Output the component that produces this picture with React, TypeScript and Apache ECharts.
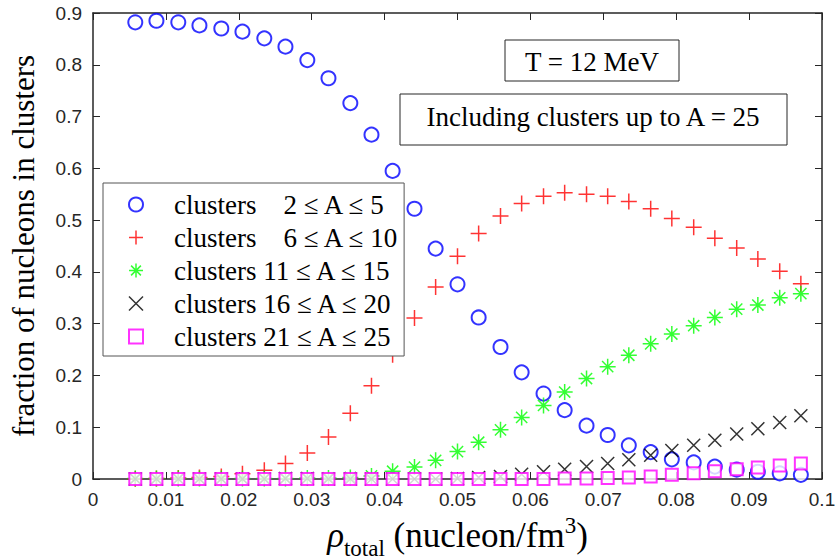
import React, { useEffect, useRef } from "react";
import * as echarts from "echarts";

// x: total density (nucleon/fm^3)
const densities = [
  0.0058, 0.0087, 0.0117, 0.0146, 0.0176, 0.0205, 0.0235, 0.0264, 0.0294, 0.0323,
  0.0353, 0.0382, 0.0411, 0.0441, 0.047, 0.05, 0.0529, 0.0559, 0.0588, 0.0618,
  0.0647, 0.0677, 0.0706, 0.0735, 0.0765, 0.0794, 0.0824, 0.0853, 0.0883, 0.0912,
  0.0942, 0.0971,
];

const clusters2to5 = [
  0.882, 0.885, 0.882, 0.876, 0.87, 0.864, 0.851, 0.835, 0.809, 0.774,
  0.726, 0.665, 0.595, 0.522, 0.445, 0.376, 0.312, 0.255, 0.206, 0.165,
  0.133, 0.103, 0.085, 0.065, 0.052, 0.038, 0.032, 0.024, 0.018, 0.014,
  0.011, 0.008,
];

const clusters6to10 = [
  0.0005, 0.001, 0.002, 0.003, 0.005, 0.01, 0.017, 0.03, 0.05, 0.081,
  0.127, 0.18, 0.24, 0.311, 0.371, 0.43, 0.474, 0.508, 0.532, 0.546,
  0.553, 0.55, 0.546, 0.536, 0.522, 0.503, 0.486, 0.465, 0.446, 0.425,
  0.401, 0.377,
];

const clusters11to15 = [
  0.001, 0.001, 0.001, 0.001, 0.001, 0.001, 0.001, 0.001, 0.002, 0.002,
  0.003, 0.006, 0.015, 0.023, 0.036, 0.053, 0.071, 0.095, 0.119, 0.142,
  0.168, 0.194, 0.217, 0.239, 0.261, 0.28, 0.296, 0.312, 0.328, 0.336,
  0.35, 0.358,
];

const clusters16to20 = [
  0, 0, 0, 0, 0, 0, 0, 0.001, 0.001, 0,
  0, 0, 0, 0, 0, 0.001, 0.003, 0.005, 0.009, 0.014,
  0.019, 0.024, 0.03, 0.037, 0.046, 0.055, 0.065, 0.075, 0.087, 0.097,
  0.109, 0.122,
];

const clusters21to25 = [
  0, 0, 0, 0, 0, 0, 0, 0, 0, 0,
  0, 0, 0, 0, 0, 0, 0, 0, 0, 0,
  0.001, 0.001, 0.002, 0.003, 0.005, 0.008, 0.011, 0.015, 0.019, 0.022,
  0.026, 0.03,
];

const seriesNames = [
  "clusters \u2002 2 \u2264 A \u2264 5",
  "clusters \u2002 6 \u2264 A \u2264 10",
  "clusters 11 \u2264 A \u2264 15",
  "clusters 16 \u2264 A \u2264 20",
  "clusters 21 \u2264 A \u2264 25",
];

const xTickLabels = ["0", "0.01", "0.02", "0.03", "0.04", "0.05", "0.06", "0.07", "0.08", "0.09", "0.1"];
const yTickLabels = ["0", "0.1", "0.2", "0.3", "0.4", "0.5", "0.6", "0.7", "0.8", "0.9"];

const tempLabel = "T = 12 MeV";
const includeLabel = "Including clusters up to A = 25";

export default function App() {
  const ref = useRef<HTMLDivElement>(null);

  useEffect(() => {
    const chart = echarts.init(ref.current!, null, { renderer: "svg" });
    const pair = (ys: number[]) => densities.map((x, i) => [x, ys[i]]);

    const plus = "path://M0,-1L0,1M-1,0L1,0";
    const cross = "path://M-1,-1L1,1M-1,1L1,-1";
    const star = "path://M0,-1L0,1M-1,0L1,0M-0.7,-0.7L0.7,0.7M-0.7,0.7L0.7,-0.7";

    const serif = "'Liberation Serif', 'Times New Roman', serif";
    const sans = "'Liberation Sans', Arial, sans-serif";
    const axisColor = "#262626";

    const axisLine = { show: true, onZero: false, lineStyle: { color: axisColor, width: 1.5 } };
    const axisTick = { show: true, inside: true, length: 7, lineStyle: { color: axisColor, width: 1 } };

    const mk = (name: string, ys: number[], symbol: string, size: number, color: string, bw: number) => ({
      type: "scatter",
      name,
      data: pair(ys),
      symbol,
      symbolSize: size,
      symbolKeepAspect: true,
      itemStyle: { color, borderColor: color, borderWidth: bw },
      emphasis: { disabled: true },
    });

    chart.setOption({
      animation: false,
      backgroundColor: "#ffffff",
      grid: { left: 93, right: 16, top: 13, bottom: 81, containLabel: false, outerBoundsMode: "none" },
      xAxis: [
        {
          type: "value",
          position: "bottom",
          min: 0,
          max: 0.1,
          interval: 0.01,
          axisLine,
          axisTick,
          splitLine: { show: false },
          axisLabel: {
            color: axisColor,
            fontSize: 19,
            fontFamily: sans,
            margin: 11,
            formatter: (v: number) => xTickLabels[Math.round(v / 0.01)] ?? "",
          },
          name: "{rho|\u03c1}{sub|total}{main| (nucleon/fm}{sup|3}{main|)}",
          nameLocation: "middle",
          nameGap: 27,
          nameTextStyle: {
            color: "#000",
            rich: {
              rho: { fontFamily: serif, fontSize: 35, fontStyle: "italic", color: "#000" },
              sub: { fontFamily: serif, fontSize: 23, color: "#000", padding: [26, 0, 0, 0] },
              main: { fontFamily: serif, fontSize: 35, color: "#000" },
              sup: { fontFamily: serif, fontSize: 23, color: "#000", padding: [0, 0, 20, 0] },
            },
          },
        },
        {
          type: "value",
          position: "top",
          min: 0,
          max: 0.1,
          interval: 0.01,
          axisLine,
          axisTick,
          splitLine: { show: false },
          axisLabel: { show: false },
        },
      ],
      yAxis: [
        {
          type: "value",
          position: "left",
          min: 0,
          max: 0.9,
          interval: 0.1,
          axisLine,
          axisTick,
          splitLine: { show: false },
          axisLabel: {
            color: axisColor,
            fontSize: 19,
            fontFamily: sans,
            margin: 11,
            formatter: (v: number) => yTickLabels[Math.round(v / 0.1)] ?? "",
          },
          name: "fraction of nucleons in clusters",
          nameLocation: "middle",
          nameGap: 54,
          nameTextStyle: { fontFamily: serif, fontSize: 31, color: "#000" },
        },
        {
          type: "value",
          position: "right",
          min: 0,
          max: 0.9,
          interval: 0.1,
          axisLine,
          axisTick,
          splitLine: { show: false },
          axisLabel: { show: false },
        },
      ],
      legend: {
        orient: "vertical",
        left: 103,
        top: 183,
        padding: [8, 4, 6, 25],
        itemWidth: 14,
        itemHeight: 14,
        itemGap: 6,
        backgroundColor: "#ffffff",
        borderColor: "#555555",
        borderWidth: 1,
        borderRadius: 0,
        selectedMode: false,
        itemStyle: { borderWidth: 1.5 },
        textStyle: {
          fontFamily: serif,
          fontSize: 27,
          lineHeight: 27,
          color: "#000",
          padding: [0, 0, 0, 26],
        },
        data: seriesNames,
      },
      graphic: [
        {
          type: "rect",
          z: 10,
          shape: { x: 505, y: 40, width: 174, height: 41 },
          style: { fill: "#ffffff", stroke: axisColor, lineWidth: 1 },
        },
        {
          type: "text",
          z: 11,
          x: 592,
          y: 62,
          style: {
            text: tempLabel,
            font: `27px ${serif}`,
            fill: "#000",
            align: "center",
            verticalAlign: "middle",
          },
        },
        {
          type: "rect",
          z: 10,
          shape: { x: 400, y: 94, width: 387, height: 51 },
          style: { fill: "#ffffff", stroke: axisColor, lineWidth: 1 },
        },
        {
          type: "text",
          z: 11,
          x: 593,
          y: 117,
          style: {
            text: includeLabel,
            font: `27px ${serif}`,
            fill: "#000",
            align: "center",
            verticalAlign: "middle",
          },
        },
      ],
      series: [
        mk(seriesNames[0], clusters2to5, "emptyCircle", 14, "#0000ff", 1.5),
        mk(seriesNames[1], clusters6to10, plus, 16, "#ff0000", 1.5),
        mk(seriesNames[2], clusters11to15, star, 16, "#00ff00", 1.5),
        mk(seriesNames[3], clusters16to20, cross, 13, "#000000", 1.5),
        mk(seriesNames[4], clusters21to25, "emptyRect", 12, "#ff00ff", 1.5),
      ],
    });

    return () => chart.dispose();
  }, []);

  return (
    <div
      ref={ref}
      style={{ position: "absolute", left: 0, top: 0, width: 838, height: 560, background: "#fff" }}
    />
  );
}
